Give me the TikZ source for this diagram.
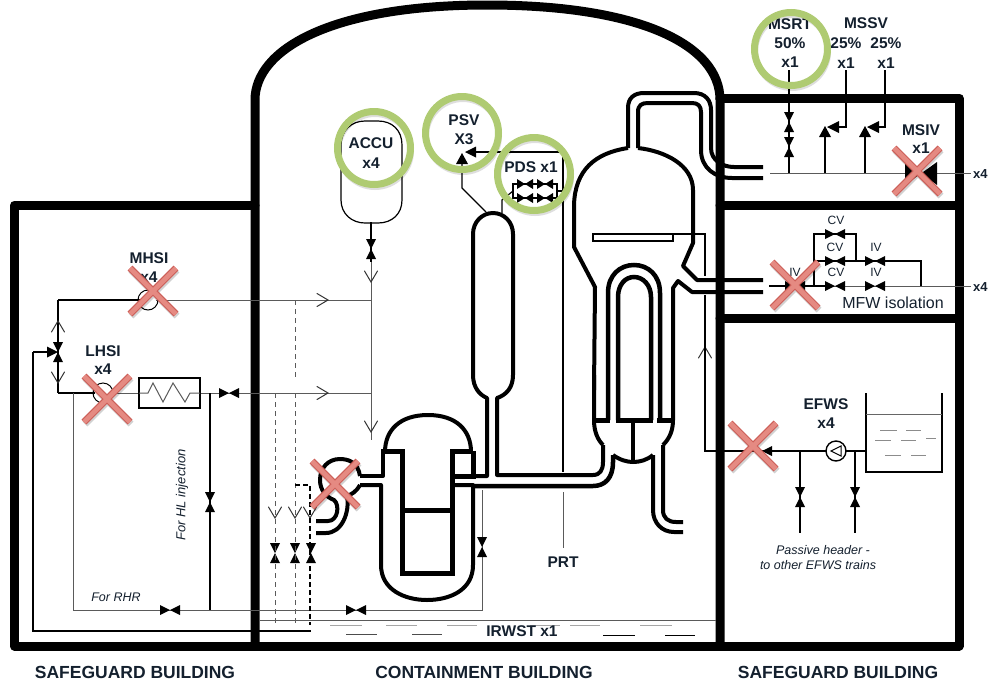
\documentclass[tikz,border=0pt]{standalone}
\usepackage{fontspec}
\setmainfont{Liberation Sans}
\usetikzlibrary{arrows.meta}
\definecolor{crossfill}{HTML}{E58A82}
\definecolor{crossedge}{HTML}{CC5F58}
\definecolor{ringgreen}{HTML}{AFCB72}
\definecolor{thingrey}{HTML}{5A5A5A}
\definecolor{lbl}{HTML}{14202E}
\tikzset{
  wall/.style={line width=9pt,line join=round,line cap=round},
  pipe/.style={line width=4pt,line join=round},
  heavy/.style={line width=5pt,line join=miter},
  blk/.style={line width=1.6pt,line join=miter},
  gry/.style={line width=1pt,draw=thingrey},
  dsh/.style={line width=1pt,draw=thingrey,dash pattern=on 5pt off 4pt},
  dshb/.style={line width=1.5pt,dash pattern=on 5pt off 3pt},
  openhead/.style={line width=1pt,draw=black!80,line cap=round,line join=miter},
  water/.style={line width=1pt,draw=black!35},
  waterd/.style={line width=1pt,draw=black},
  lab/.style={font=\bfseries\fontsize{15.5}{15.5}\selectfont,text=lbl,inner sep=0pt},
  vlab/.style={font=\fontsize{12}{12}\selectfont,text=lbl,inner sep=0pt},
  itl/.style={font=\itshape\fontsize{12.5}{13}\selectfont,text=lbl,inner sep=0pt},
  bld/.style={font=\bfseries\fontsize{17.5}{17.5}\selectfont,text=lbl,inner sep=0pt},
}
\newcommand{\valveV}[3][10]{\fill (#2-5,#3-#1) -- (#2+5,#3-#1) -- (#2-5,#3+#1) -- (#2+5,#3+#1) -- cycle;}
\newcommand{\valveH}[3][10]{\fill (#2-#1,#3-5) -- (#2-#1,#3+5) -- (#2+#1,#3-5) -- (#2+#1,#3+5) -- cycle;}
\newcommand{\arrDown}[2]{\draw[openhead] (#1-6.5,#2-11) -- (#1,#2) -- (#1+6.5,#2-11);}
\newcommand{\arrUp}[2]{\draw[openhead] (#1-6.5,#2+11) -- (#1,#2) -- (#1+6.5,#2+11);}
\newcommand{\arrRight}[2]{\draw[openhead] (#1-11,#2-6.5) -- (#1,#2) -- (#1-11,#2+6.5);}
\newcommand{\triUp}[2]{\fill (#1,#2) -- (#1-6,#2+11) -- (#1+6,#2+11) -- cycle;}
\newcommand{\triLeft}[2]{\fill (#1,#2) -- (#1+11,#2-5.5) -- (#1+11,#2+5.5) -- cycle;}
\newcommand{\redX}[2]{%
  \draw[line width=7pt,draw=black,opacity=.18] (#1-22,#2-21) -- (#1+24,#2+25) (#1+24,#2-21) -- (#1-22,#2+25);
  \draw[line width=7pt,draw=crossedge] (#1-23,#2-23) -- (#1+23,#2+23) (#1+23,#2-23) -- (#1-23,#2+23);
  \draw[line width=4.6pt,draw=crossfill] (#1-23,#2-23) -- (#1+23,#2+23) (#1+23,#2-23) -- (#1-23,#2+23);
}
\newcommand{\greenO}[2]{%
  \draw[line width=5pt,draw=black,opacity=.13] (#1+1,#2+3) circle (36.5);
  \draw[line width=7pt,draw=ringgreen] (#1,#2) circle (36.5);
}
\begin{document}
\begin{tikzpicture}[x=1pt,y=-1pt]
\useasboundingbox (0,0) rectangle (988,681);
\fill[white] (0,0) rectangle (988,681);

% --- buildings
\draw[wall] (255,205) -- (14.5,205) -- (14.5,646) -- (959,646) -- (959,98) -- (720,98);
\draw[wall] (255,646) -- (255,100) .. controls (255,50) and (330,5) .. (487,5) .. controls (640,5) and (720,45) .. (720,100) -- (720,646);
\draw[wall] (720,205) -- (959,205);
\draw[wall] (720,318) -- (959,318);

% --- thin piping, left
\draw[blk] (33,352) -- (33,631) -- (311,631);
\draw[blk] (58,300) -- (58,393);
\draw[blk] (33,352) -- (50,352);
\draw[blk] (58,300) -- (140,300);
\draw[gry] (156,300) -- (371,300);
\draw[blk] (58,393) -- (95,393);
\draw[gry] (111,393) -- (139,393);
\draw[gry] (200,393) -- (371,393);
\draw[gry] (73,393) -- (73,610) -- (482,610) -- (482,490);
\draw[blk] (210,393) -- (210,610);
\draw[gry] (260,620) -- (716,620);
\draw[gry] (371,222) -- (371,440);
\draw[blk] (371,222) -- (371,262);

% pumps and heat exchanger
\draw[line width=1pt] (148,300) circle (10);
\draw[line width=1pt] (103,393) circle (10);
\draw[line width=1.8pt] (139,378) rectangle (200,408);
\draw[gry] (139,393) -- (148,393) -- (153,383) -- (163,402) -- (173,383) -- (185,402) -- (190,393) -- (200,393);

% open arrows
\arrUp{58}{321}
\arrDown{58}{383}
\arrRight{328}{300}
\arrRight{328}{393}
\arrDown{371}{282}
\arrDown{371}{432}
\arrDown{275}{518}
\arrDown{295}{518}
\arrDown{310}{518}
\arrUp{705}{347}

% three-way valve
\fill (58,352) -- (53,342) -- (63,342) -- cycle;
\fill (58,352) -- (53,362) -- (63,362) -- cycle;
\fill (58,352) -- (47,346.5) -- (47,357.5) -- cycle;

% valves
\valveH{229}{393}
\valveV{210}{502}
\valveH{170}{610}
\valveH{356}{610}
\valveV{482}{547}
\valveV{371}{249}
\valveV{275}{553}
\valveV{295}{553}
\valveV{311}{553}

% dashed branches
\draw[dsh] (295,300) -- (295,377);
\draw[dsh] (275,393) -- (275,625);
\draw[dsh] (295,393) -- (295,625);
\draw[dshb] (295,485) -- (310,485) -- (310,625);

% --- RPV
\draw[pipe] (385,452) .. controls (385,430) and (400,415) .. (428,415) .. controls (456,415) and (471,430) .. (471,452);
\draw[heavy] (381,451) -- (402,451) -- (402,573) -- (452,573) -- (452,451) -- (473,451);
\draw[heavy] (402,510) -- (452,510);
\draw[pipe] (360,476) -- (383,476) -- (383,451);
\draw[pipe] (360,485) -- (381,485) -- (381,565) .. controls (381,590) and (405,600) .. (427,600) .. controls (450,600) and (473,590) .. (473,565) -- (473,485) -- (452,485);
\draw[heavy] (451,476) -- (473,476) -- (473,451);

% crossover and pump
\draw[pipe] (360,476) .. controls (358,462) and (348,459) .. (340,459) .. controls (328,459) and (320,468) .. (320,480) .. controls (320,490) and (326,497) .. (334,500) .. controls (340,505) and (338,521) .. (328,521) -- (316,521);
\draw[pipe] (360,485) .. controls (356,492) and (352,494) .. (347,496) .. controls (350,512) and (342,533) .. (326,533) -- (316,533);

% --- hot leg, surge line, pressuriser
\draw[pipe,line width=4.5pt] (473,486) -- (593,486) .. controls (605,486) and (613,478) .. (613,462) -- (613,455);
\draw[pipe] (473,476) -- (487,476) -- (487,398) .. controls (480,395) and (473,388) .. (473,375) -- (473,234) .. controls (473,222) and (482,213) .. (493,213) .. controls (504,213) and (513,222) .. (513,234) -- (513,375) .. controls (513,388) and (506,395) .. (497,398) -- (497,475) -- (593,475) .. controls (600,475) and (603,470) .. (603,462) -- (603,445);

% --- steam generator
\draw[pipe] (628,148) .. controls (595,153) and (575,170) .. (574,205) -- (574,247) -- (595,287) -- (594,390);
\draw[pipe] (594,375) -- (594,420) .. controls (594,432) and (598,440) .. (603,445);
\draw[pipe] (638,148) .. controls (665,151) and (693,165) .. (693,190) -- (693,243) -- (683,266) -- (697,280) -- (763,280);
\draw[pipe] (763,292) -- (692,292) -- (678,281) -- (673,288) -- (673,420) .. controls (673,430) and (670,438) .. (663,445);
% feed and steam pipes on top
\draw[pipe] (628,148) -- (628,108) .. controls (628,98) and (634,93) .. (644,93) -- (694,93) .. controls (705,93) and (711,100) .. (711,110) -- (711,148) .. controls (711,160) and (722,167) .. (734,167) -- (763,167);
\draw[pipe] (638,148) -- (638,112) .. controls (638,105) and (642,103) .. (648,103) -- (692,103) .. controls (698,103) and (701,106) .. (701,112) -- (701,150) .. controls (701,168) and (715,178) .. (732,178) -- (763,178);
% tubes
\draw[line width=4.5pt] (608,420) -- (608,293) .. controls (608,275) and (620,265) .. (634,265) .. controls (648,265) and (660,275) .. (660,293) -- (660,420);
\draw[line width=4.5pt] (618,420) -- (618,297) .. controls (618,285) and (625,277) .. (634,277) .. controls (643,277) and (651,285) .. (651,297) -- (651,420);
\draw[heavy] (592,420) -- (610,420);
\draw[heavy] (616,420) -- (653,420);
\draw[heavy] (657,420) -- (675,420);
\draw[pipe] (633,420) -- (633,462);
\draw[pipe] (613,455) .. controls (620,460) and (627,462) .. (633,462) .. controls (640,462) and (647,460) .. (653,455);
\draw[pipe] (653,455) -- (653,510) .. controls (653,523) and (662,532) .. (674,532) -- (683,532);
\draw[pipe] (663,445) -- (663,510) .. controls (663,518) and (668,522) .. (676,522) -- (683,522);
\draw[line width=2pt] (593,234) rectangle (673,241);
\draw[line width=1.3pt] (673,234) -- (705,234) -- (705,276);
\draw[line width=1.3pt] (705,295) -- (705,451) -- (825,451);

% accumulator, PSV, PDS, PRT
\draw[line width=1.2pt] (341,145) .. controls (341,130) and (352,121) .. (365,121) -- (378,121) .. controls (392,121) and (402,130) .. (402,145) -- (402,200) .. controls (402,214) and (392,223) .. (378,223) -- (365,223) .. controls (352,223) and (341,214) .. (341,200) -- cycle;
\draw[line width=1.3pt] (486,212) -- (462,188) -- (462,160);
\triUp{462}{153}
\triLeft{465}{152}
\draw[line width=1.4pt] (470,152) -- (563,152) -- (563,472);
\draw[gry] (563,492) -- (563,548);
\draw[line width=1.2pt] (502,213) -- (502,200) -- (513,191);
\draw[line width=1.2pt] (557,191) -- (563,191);
\draw[line width=1.6pt] (513,184) rectangle (557,198);
\foreach \yy in {184,198}{
  \foreach \xx in {525,545}{
    \fill (\xx-8,\yy-5) -- (\xx-8,\yy+5) -- (\xx,\yy) -- cycle;
    \fill (\xx+8,\yy-5) -- (\xx+8,\yy+5) -- (\xx,\yy) -- cycle;
  }
}

% --- main steam
\draw[gry] (770,173) -- (971,173);
\draw[line width=1.4pt] (789,70) -- (789,173);
\valveV{789}{122}
\valveV{789}{147}
\draw[blk] (846,70) -- (846,127) -- (836,127);
\draw[blk] (885,70) -- (885,127) -- (875,127);
\draw[blk] (825,173) -- (825,135);
\draw[blk] (865,173) -- (865,135);
\triUp{825}{126}
\triUp{865}{126}
\fill (827,127) -- (839,121) -- (839,133) -- cycle;
\fill (867,127) -- (879,121) -- (879,133) -- cycle;
\fill (905,162) -- (905,185) -- (937,162) -- (937,185) -- cycle;

% --- main feedwater
\draw[blk] (769,286) -- (830,286);
\draw[gry] (830,286) -- (971,286);
\draw[blk] (814,286) -- (814,234) -- (856,234) -- (856,261);
\draw[blk] (814,261) -- (921,261) -- (921,286);
\valveH{795}{286}
\valveH{835}{234}
\valveH{835}{261}
\valveH{875}{261}
\valveH{835}{286}
\valveH{875}{286}

% --- EFWS
\draw[blk] (764,451) -- (826,451);
\fill (762,451) -- (772,446) -- (772,456) -- cycle;
\draw[line width=1.4pt,fill=white] (836,451) circle (10);
\draw[line width=1pt] (841,446) -- (831,451) -- (841,456) -- cycle;
\draw[blk] (846,451) -- (866,451);
\draw[line width=1.6pt] (866,393) -- (866,472) -- (942,472) -- (942,393);
\draw[line width=1pt,draw=black!60] (866,414) -- (942,414);
\foreach \a/\b/\c in {880/897/430,906/921/430,875/891/440,901/916/440,926/936/438,885/901/455,911/926/455}{
  \draw[line width=.9pt,draw=black!45] (\a,\c) -- (\b,\c);
}
\draw[blk] (800,451) -- (800,533);
\draw[blk] (855,451) -- (855,533);
\valveV{800}{497}
\valveV{855}{497}

% --- IRWST water
\foreach \a/\b in {330/362,386/417,447/477,530/560,570/600,640/672}{\draw[water] (\a,625) -- (\b,625);}
\foreach \a/\b in {346/377,412/442}{\draw[water,draw=black!70] (\a,634) -- (\b,634);}
\foreach \a/\b in {603/635,665/695}{\draw[waterd] (\a,635) -- (\b,635);}

% --- labels
\node[lab] (msrt) at (790,24) {MSRT};
\node[lab] (msrtp) at (790,43) {50\%};
\node[lab] (msrtx) at (790,62) {x1};
\node[lab] (mssv) at (866,23) {MSSV};
\node[lab] (mssvp1) at (846,43) {25\%};
\node[lab] (mssvp2) at (886,43) {25\%};
\node[lab] (mssvx1) at (846,63) {x1};
\node[lab] (mssvx2) at (886,63) {x1};
\node[lab] (msiv) at (921,130) {MSIV};
\node[lab] (msivx) at (921,148) {x1};
\node[lab,font=\bfseries\fontsize{13}{13}\selectfont,anchor=west] (out1) at (973,174) {x4};
\node[lab,font=\bfseries\fontsize{13}{13}\selectfont,anchor=west] (out2) at (973,287) {x4};
\node[lab] (accu) at (371,143) {ACCU};
\node[lab] (accux) at (371,163) {x4};
\node[lab] (psv) at (464,120) {PSV};
\node[lab] (psvx) at (464,139) {X3};
\node[lab] (pds) at (531,167) {PDS x1};
\node[lab] (mhsi) at (149,258) {MHSI};
\node[lab] (mhsix) at (149,277) {x4};
\node[lab] (lhsi) at (103,351) {LHSI};
\node[lab] (lhsix) at (103,369) {x4};
\node[lab] (efws) at (826,404) {EFWS};
\node[lab] (efwsx) at (826,423) {x4};
\node[lab] (prt) at (563,562) {PRT};
\node[lab] (irwst) at (522,631) {IRWST x1};
\node[vlab] (cv1) at (836,220) {CV};
\node[vlab] (cv2) at (835,247) {CV};
\node[vlab] (cv3) at (836,272) {CV};
\node[vlab] (iv1) at (876,247) {IV};
\node[vlab] (iv2) at (876,272) {IV};
\node[vlab] (iv3) at (795,272) {IV};
\node[inner sep=0pt,text=lbl,font=\fontsize{16}{16}\selectfont] (mfw) at (893,303) {MFW isolation};
\node[itl] (ph1) at (823,550) {Passive header -};
\node[itl] (ph2) at (818,565) {to other EFWS trains};
\node[itl] (rhr) at (116,597) {For RHR};
\node[itl,rotate=90,font=\itshape\fontsize{13}{13}\selectfont] (hl) at (182,495) {For HL injection};
\node[bld] (b1) at (135,672) {SAFEGUARD BUILDING};
\node[bld] (b2) at (484,672) {CONTAINMENT BUILDING};
\node[bld] (b3) at (838,672) {SAFEGUARD BUILDING};

% --- highlights
\greenO{374}{148}
\greenO{462}{133}
\greenO{534}{174}
\greenO{791}{49}
\redX{153}{291}
\redX{107}{399}
\redX{335}{484}
\redX{917}{171}
\redX{795}{285}
\redX{753}{446}
\end{tikzpicture}
\end{document}
